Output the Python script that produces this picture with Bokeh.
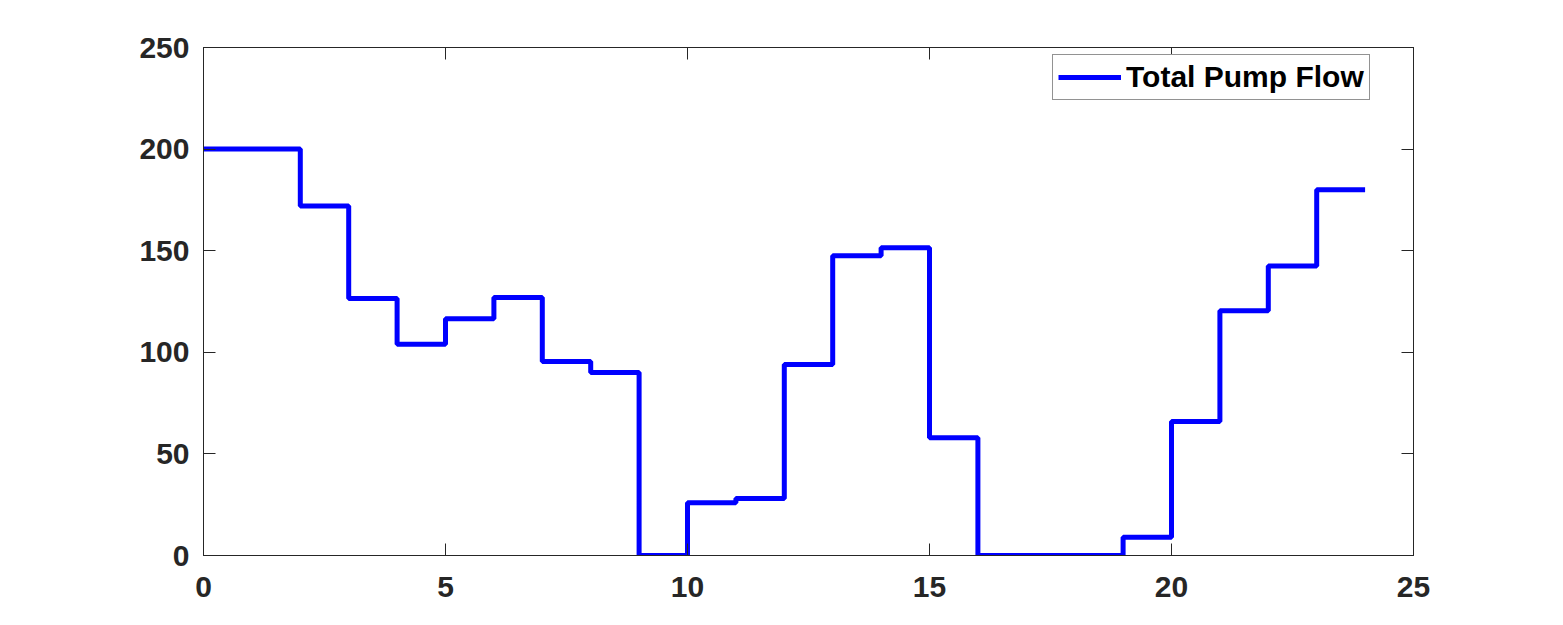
from bokeh.plotting import figure
from bokeh.models import LinearAxis, FixedTicker, Range1d, Legend, LegendItem
from bokeh.embed import file_html
from bokeh.resources import INLINE

hours = list(range(25))
flow = [200, 200, 172, 126.5, 104, 116.5, 127, 95.5, 90, 0, 26, 28, 94, 147.5,
        151.5, 58, 0, 0, 0, 9, 66, 120.5, 142.5, 180, 180]
x_ticks = [0, 5, 10, 15, 20, 25]
y_ticks = [0, 50, 100, 150, 200, 250]
series_name = "Total Pump Flow"

W, H = 1555, 617
p = figure(width=W, height=H, output_backend="svg", toolbar_location=None,
           x_range=Range1d(0, 25), y_range=Range1d(0, 250),
           x_axis_type=None, y_axis_type=None,
           min_border_left=203, min_border_right=142, min_border_top=47, min_border_bottom=62)
p.background_fill_color = "white"
p.border_fill_color = "white"
p.outline_line_color = "#262626"
p.outline_line_width = 1
p.grid.visible = False

FONT = "Liberation Sans"
TC = "#262626"

def mk_axis(ticks, show_labels):
    ax = LinearAxis(ticker=FixedTicker(ticks=ticks))
    ax.major_tick_in = 12
    ax.major_tick_out = 0
    ax.minor_tick_in = 0
    ax.minor_tick_out = 0
    ax.axis_line_color = TC
    ax.major_tick_line_color = TC
    ax.major_label_text_font = FONT
    ax.major_label_text_font_style = "bold"
    ax.major_label_text_font_size = "30px"
    ax.major_label_text_color = TC if show_labels else None
    return ax

xb = mk_axis(x_ticks, True); xb.major_label_standoff = 21
yl = mk_axis(y_ticks, True); yl.major_label_standoff = 14
xt = mk_axis(x_ticks, False); xt.major_label_standoff = 0
yr = mk_axis(y_ticks, False); yr.major_label_standoff = 0
p.add_layout(xb, "below")
p.add_layout(yl, "left")
p.add_layout(xt, "above")
p.add_layout(yr, "right")

r = p.step(hours, flow, mode="after", line_color="#0000FF", line_width=5)

leg = Legend(items=[LegendItem(label=series_name, renderers=[r])])
leg.location = (849, 455)
leg.border_line_color = TC
leg.border_line_width = 1
leg.label_text_font = FONT
leg.label_text_font_style = "bold"
leg.label_text_font_size = "30px"
leg.label_text_color = "black"
leg.glyph_width = 63
leg.glyph_height = 26
leg.label_height = 26
leg.label_standoff = 5
leg.padding = 5
leg.margin = 0
leg.spacing = 0
leg.background_fill_alpha = 1
p.add_layout(leg, "center")

open("out.html", "w").write(file_html(p, INLINE))
